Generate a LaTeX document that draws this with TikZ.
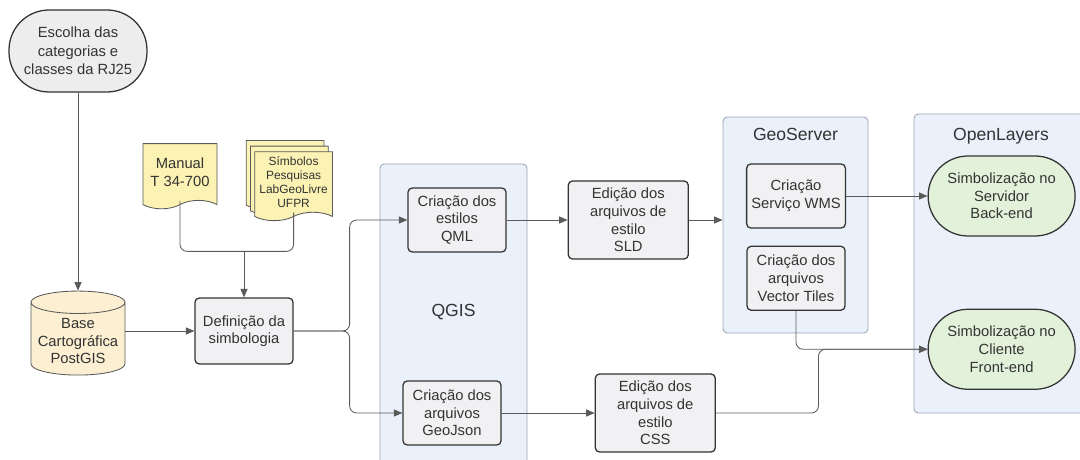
\documentclass[tikz,border=0pt]{standalone}
\usepackage{fontspec}
\setmainfont{Liberation Sans}
\usepackage{xcolor}
\usepackage{tikz}
\usetikzlibrary{arrows.meta,positioning,shapes.geometric,shapes.symbols,shadows}
\definecolor{txtgray}{HTML}{333333}
\definecolor{linegray}{HTML}{5A5A5A}
\definecolor{boxfill}{HTML}{F1F1F3}
\definecolor{startfill}{HTML}{EDEDED}
\definecolor{docyellow}{HTML}{FBF2B4}
\definecolor{dbpeach}{HTML}{FCEFD2}
\definecolor{groupblue}{HTML}{EAF1FB}
\definecolor{groupline}{HTML}{9CA6B4}
\definecolor{leafgreen}{HTML}{E2F1DA}
\begin{document}
\begin{tikzpicture}[font=\fontsize{10.5}{12.5}\selectfont, text=txtgray]
    % Styles
    \tikzstyle{block} = [rectangle, draw=txtgray, line width=0.9pt, fill=boxfill, align=center, rounded corners=3pt, minimum width=2.45cm, minimum height=1.6cm]
    \tikzstyle{wideblock} = [block, minimum width=3cm, minimum height=1.95cm]
    \tikzstyle{terminal} = [rectangle, draw=txtgray, line width=0.9pt, align=center, rounded corners=1cm, minimum height=2cm]
    \tikzstyle{document} = [tape, tape bend top=none, tape bend height=6pt, draw=linegray, line width=0.6pt, fill=docyellow, align=center]
    \tikzstyle{group} = [rectangle, draw=groupline, line width=0.6pt, fill=groupblue, rounded corners=3pt]
    \tikzstyle{grouplabel} = [font=\fontsize{12.5}{14}\selectfont]
    \tikzstyle{line} = [linegray, line width=0.6pt]
    \tikzstyle{arrow} = [line, -{Triangle[length=6pt,width=5pt]}]

    \useasboundingbox (0,0) rectangle (27,-11.5);

    % Groups
    \node [group, minimum width=3.675cm, minimum height=7.7cm, label={[grouplabel, yshift=0.15cm]center:QGIS}] (qgis) at (11.3375,-7.95) {};
    \node [group, minimum width=3.625cm, minimum height=5.4cm, label={[grouplabel, anchor=north, yshift=-0.16cm]north:GeoServer}] (geoserver) at (19.8875,-5.625) {};
    \node [group, minimum width=4.35cm, minimum height=7.475cm, label={[grouplabel, anchor=north, yshift=-0.24cm]north:OpenLayers}] (openlayers) at (25.025,-6.5875) {};

    % Nodes
    \node [terminal, fill=startfill, font=\fontsize{10.5}{13}\selectfont, minimum width=3.45cm, minimum height=2.05cm] (escolha) at (1.95,-1.275) {Escolha das\\categorias e\\classes da RJ25};
    \node [cylinder, shape border rotate=90, aspect=0.25, draw=linegray, line width=0.6pt, fill=dbpeach, align=center, minimum width=2.35cm, minimum height=2cm, below=4.95cm of escolha] (base) {Base\\Cartográfica\\PostGIS};
    \node [block, minimum height=1.65cm] (def) at (6.1,-8.275) {Definição da\\simbologia};

    \node [document, minimum width=1.85cm, minimum height=1.63cm] (manual) at (4.5,-4.3) {Manual\\T 34-700};
    \node [document, font=\fontsize{8.5}{10}\selectfont, minimum width=1.78cm, minimum height=1.7cm,
           copy shadow={shadow xshift=-6pt, shadow yshift=8pt}, copy shadow={shadow xshift=-3pt, shadow yshift=4pt}] (simbolos) at (7.34,-4.55) {Símbolos\\Pesquisas\\LabGeoLivre\\UFPR};

    \node [block] (qml) at (11.425,-5.5) {Criação dos\\estilos\\QML};
    \node [wideblock, right=1.525cm of qml] (sld) {Edição dos\\arquivos de\\estilo\\SLD};
    \node [block] (geojson) at (11.3,-10.325) {Criação dos\\arquivos\\GeoJson};
    \node [wideblock, right=2.325cm of geojson] (css) {Edição dos\\arquivos de\\estilo\\CSS};

    \node [block] (wms) at (19.9,-4.9) {Criação\\Serviço WMS};
    \node [block, below=0.425cm of wms] (tiles) {Criação dos\\arquivos\\Vector Tiles};

    \node [terminal, fill=leafgreen, minimum width=3.675cm] (servidor) at (25.04,-4.9) {Simbolização no\\Servidor\\Back-end};
    \node [terminal, fill=leafgreen, minimum width=3.675cm, below=1.8cm of servidor] (cliente) {Simbolização no\\Cliente\\Front-end};

    \coordinate [above=1.15cm of def] (merge);
    \coordinate [right=1.4cm of def] (split);
    \coordinate [left=2.725cm of cliente] (join);

    % Connections
    \draw[arrow] (escolha) -- (base);
    \draw[arrow] (def.west -| base.east) -- (def.west);
    \draw[line, rounded corners=5pt] (manual.south) |- (merge);
    \draw[line, rounded corners=5pt] (simbolos.south) |- (merge);
    \draw[arrow] (merge) -- (def);
    \draw[arrow, rounded corners=5pt] (def.east) -- (split) |- (qml.west);
    \draw[arrow, rounded corners=5pt] (def.east) -- (split) |- (geojson.west);
    \draw[arrow] (qml) -- (sld);
    \draw[arrow] (geojson.east) -- (geojson.east -| css.west);
    \draw[arrow] (sld.east) -- (sld.east -| geoserver.west);
    \draw[arrow] (wms.east) -- (wms.east -| servidor.west);
    \draw[arrow, rounded corners=5pt] (tiles.south) |- (cliente.west);
    \draw[arrow, rounded corners=5pt] (css.east) -| (join) -- (cliente.west);
\end{tikzpicture}
\end{document}
